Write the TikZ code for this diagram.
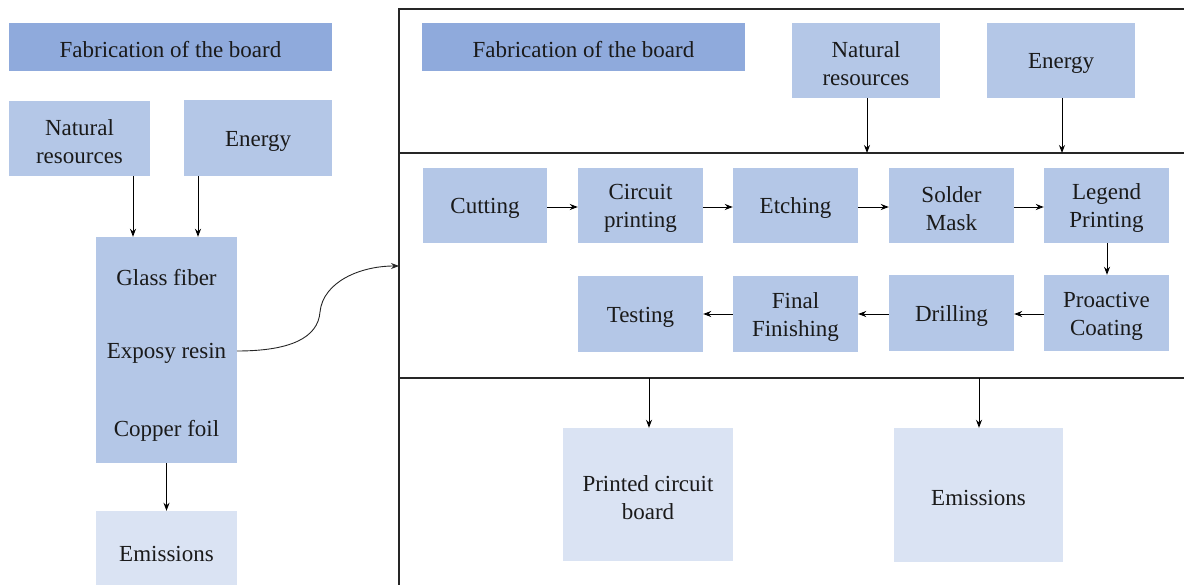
\documentclass[tikz,border=0pt]{standalone}
\usepackage{fontspec}
\newfontfamily\boxfont{Liberation Serif}
\usetikzlibrary{arrows.meta}
\definecolor{hdrblue}{HTML}{8FAADC}
\definecolor{midblue}{HTML}{B4C7E7}
\definecolor{paleblue}{HTML}{DAE3F3}
\definecolor{ink}{HTML}{1A1A1A}
\tikzset{
  base/.style={rectangle, inner sep=0pt, text=ink, align=center,
    font=\boxfont\fontsize{23}{28}\selectfont},
  hdrbox/.style={base, fill=hdrblue},
  midbox/.style={base, fill=midblue},
  palebox/.style={base, fill=paleblue},
  plain/.style={base},
  frameline/.style={draw=black!85, line width=1.3pt},
  flow/.style={draw=black, line width=0.9pt, -{Stealth[length=8pt,width=6pt]}},
}
% box placed by its corners (x1,y1) top-left, (x2,y2) bottom-right,
% with its label set slightly below the geometric centre
\newcommand{\cbox}[7]{%
  \node[#1, minimum width={(#5-#3)*1pt}, minimum height={(#6-#4)*1pt}]
    (#2) at ({(#3+#5)/2},{(#4+#6)/2}) {};
  \node[plain] (#2-t) at ({(#3+#5)/2},{(#4+#6)/2+3}) {#7};}
\begin{document}
\begin{tikzpicture}[x=1pt,y=-1pt]
\useasboundingbox (0,0) rectangle (1184,585);

% ---------- left column: raw materials ----------
\cbox{hdrbox}{lhead}{9}{23}{332}{71}{Fabrication of the board}
\cbox{midbox}{lnat}{9}{101}{150}{176}{Natural\\resources}
\cbox{midbox}{lene}{184}{100}{332}{176}{Energy}
\node[midbox, minimum width=141pt, minimum height=226pt] (mat) at (166.5,350) {};
\node[plain] (glass)  at (166.5,278) {Glass fiber};
\node[plain] (resin)  at (166.5,353) {Exposy resin};
\node[plain] (copper) at (166.5,431) {Copper foil};
\node[palebox, minimum width=141pt, minimum height=74pt] (lemi) at (166.5,548) {};
\node[plain] (lemitxt) at (166.5,554) {Emissions};

\draw[flow] (lnat.south -| 133,0) -- (mat.north -| 133,0);
\draw[flow] (lene.south -| 198,0) -- (mat.north -| 198,0);
\draw[flow] (mat.south) -- (lemi.north);

% ---------- right panel frame ----------
\coordinate (ftl) at (399,9);
\coordinate (ftr) at (1184,9);
\coordinate (fbl) at (399,585);
\coordinate (m1l) at (399,153);
\coordinate (m1r) at (1184,153);
\coordinate (m2l) at (399,378);
\coordinate (m2r) at (1184,378);
\draw[frameline] (fbl) -- (ftl) -- (ftr);
\draw[frameline] (m1l) -- (m1r);
\draw[frameline] (m2l) -- (m2r);

% link from the materials to the process panel
\coordinate (entry) at (399,266);
\coordinate (linkout) at (237,351);
\draw[draw=black!85, line width=0.9pt, -{Stealth[length=8pt,width=6pt]}]
  (linkout) .. controls (290,351) and (318,338) .. (320,312)
  .. controls (323,282) and (360,266) .. (entry);

% ---------- inputs ----------
\cbox{hdrbox}{rhead}{422}{23}{745}{71}{Fabrication of the board}
\cbox{midbox}{rnat}{792}{23}{940}{98}{Natural\\resources}
\cbox{midbox}{rene}{987}{23}{1135}{98}{Energy}
\coordinate (rnatin) at (867,153);
\coordinate (renein) at (1062,153);
\draw[flow] (rnat.south -| rnatin) -- (rnatin);
\draw[flow] (rene.south -| renein) -- (renein);

% ---------- process steps ----------
\cbox{midbox}{cut}{423}{168}{547}{243}{Cutting}
\cbox{midbox}{circ}{578}{168}{703}{243}{Circuit\\printing}
\cbox{midbox}{etch}{733}{168}{858}{243}{Etching}
\cbox{midbox}{solder}{889}{168}{1014}{243}{Solder\\Mask}
\cbox{midbox}{legend}{1044}{168}{1169}{243}{Legend\\Printing}
\cbox{midbox}{test}{578}{276}{703}{352}{Testing}
\cbox{midbox}{final}{733}{276}{858}{352}{Final\\Finishing}
\cbox{midbox}{drill}{889}{275}{1014}{351}{Drilling}
\cbox{midbox}{coat}{1044}{275}{1169}{351}{Proactive\\Coating}

\draw[flow] (cut.east |- 0,207) -- (circ.west |- 0,207);
\draw[flow] (circ.east |- 0,207) -- (etch.west |- 0,207);
\draw[flow] (etch.east |- 0,207) -- (solder.west |- 0,207);
\draw[flow] (solder.east |- 0,207) -- (legend.west |- 0,207);
\draw[flow] (legend.south -| 1107,0) -- (coat.north -| 1107,0);
\draw[flow] (coat.west |- 0,314) -- (drill.east |- 0,314);
\draw[flow] (drill.west |- 0,314) -- (final.east |- 0,314);
\draw[flow] (final.west |- 0,314) -- (test.east |- 0,314);

% ---------- outputs ----------
\cbox{palebox}{pcb}{563}{428}{733}{561}{Printed circuit\\board}
\cbox{palebox}{remi}{894}{428}{1063}{562}{Emissions}
\coordinate (pcbout) at (649,378);
\coordinate (emiout) at (979,378);
\draw[flow] (pcbout) -- (pcb.north -| pcbout);
\draw[flow] (emiout) -- (remi.north -| emiout);
\end{tikzpicture}
\end{document}
